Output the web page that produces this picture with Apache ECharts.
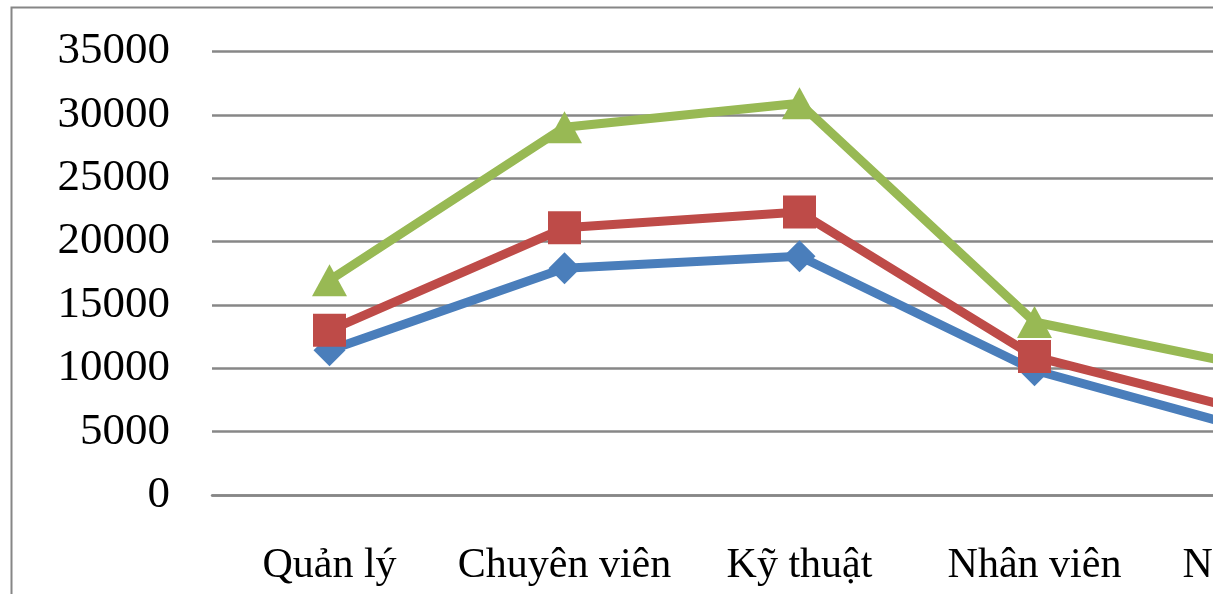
<!DOCTYPE html>
<html>
<head>
<meta charset="utf-8">
<script src="https://cdn.jsdelivr.net/npm/echarts@6/dist/echarts.min.js"></script>
<style>
html,body{margin:0;padding:0;background:#fff;}
#c{width:1213px;height:594px;}
</style>
</head>
<body>
<div id="c"></div>
<script>
var categories = ['Quản lý', 'Chuyên viên', 'Kỹ thuật', 'Nhân viên\nkỹ thuật', 'Nhân viên\nbán hàng'];
var seriesBlue = [11430, 17890, 18840, 9850, 4760];
var seriesRed = [13000, 21090, 22330, 10930, 6170];
var seriesGreen = [16950, 29030, 30920, 13660, 9850];
var yTicks = [0, 5000, 10000, 15000, 20000, 25000, 30000, 35000];

var chart = echarts.init(document.getElementById('c'), null, {renderer: 'canvas'});
var fontFam = '"Liberation Serif", "DejaVu Serif", serif';
function mk(name, data, color, symbol, size) {
  return {
    name: name, type: 'line', data: data,
    symbol: symbol, symbolSize: size,
    lineStyle: {color: color, width: 9},
    itemStyle: {color: color},
    animation: false
  };
}
chart.setOption({
  animation: false,
  graphic: [{
    type: 'rect', left: 9, top: 5, z: -1,
    shape: {width: 1400, height: 800},
    style: {fill: 'none', stroke: '#868686', lineWidth: 2}
  }],
  grid: {left: 212, top: 51.5, width: 1175, height: 443.6, containLabel: false, outerBoundsMode: 'none'},
  xAxis: {
    type: 'category', data: categories, boundaryGap: true,
    axisLine: {show: true, lineStyle: {color: '#878787', width: 2.5}},
    axisTick: {show: false},
    axisLabel: {fontFamily: fontFam, fontSize: 42, color: '#000', margin: 46, lineHeight: 50, interval: 0}
  },
  yAxis: {
    type: 'value', min: yTicks[0], max: yTicks[yTicks.length - 1], interval: 5000,
    axisLine: {show: false}, axisTick: {show: false},
    splitLine: {lineStyle: {color: '#878787', width: 2.5}},
    axisLabel: {fontFamily: fontFam, fontSize: 45, color: '#000', margin: 42, formatter: function (v) { return String(v); }}
  },
  series: [
    mk('S1', seriesBlue, '#4A7EBB', 'diamond', 32),
    mk('S2', seriesRed, '#BE4B48', 'rect', 33),
    mk('S3', seriesGreen, '#98B954', 'triangle', [35, 32])
  ]
});
</script>
</body>
</html>
